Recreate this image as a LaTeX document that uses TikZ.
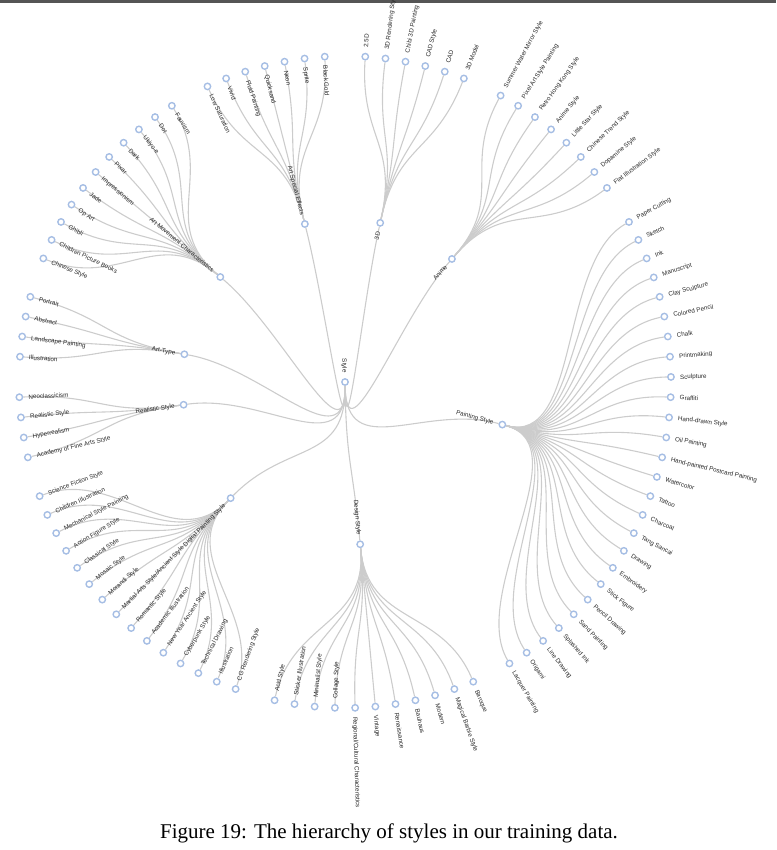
\documentclass[tikz,border=0pt]{standalone}
\usepackage{fontspec}
\setmainfont{Liberation Serif}
\setsansfont{Liberation Sans}
\usetikzlibrary{backgrounds}
\definecolor{linkgray}{RGB}{204, 204, 204}
\definecolor{ringcolor}{RGB}{166, 190, 228}
\definecolor{labelcolor}{RGB}{40, 40, 40}
\definecolor{topbar}{RGB}{85, 85, 85}
\tikzset{
  stylenode/.style={
    circle, minimum size=6.4pt, inner sep=0pt,
    draw=ringcolor, line width=1.4pt, fill=white
  },
  stylelabel/.style={
    inner sep=0pt, text=labelcolor,
    font=\sffamily\fontsize{6.25}{7}\selectfont
  },
  link/.style={
    draw=linkgray, line width=1.1pt
  }
}

% one slot of the ring (degrees) and the two ring radii (px)
\newcommand\stslot{7.128713}
\newcommand\radone{163}
\newcommand\radtwo{326}
\newcommand\rootang{-89.1}

% #1 name, #2 label, #3 first slot, #4 leaf count, #5 leaves
\newcommand\stylegroup[5]{%
  \pgfmathsetmacro\gth{(#3+(#4-1)/4)*\stslot}%
  \pgfmathsetmacro\gang{90-\gth}%
  \node[stylenode] (#1) at (\gang:\radone) {};
  \ifdim\gth pt<180pt
    \node[stylelabel, rotate=\gang, anchor=mid east] (#1-t) at (\gang:\radone-9) {#2};
  \else
    \node[stylelabel, rotate=\gang+180, anchor=mid east] (#1-t) at (\gang:\radone+9) {#2};
  \fi
  \begin{scope}[on background layer]
    \draw[link] (root) .. controls (\rootang:\radone/2) and (\gang:\radone/2) .. (#1);
  \end{scope}
  \foreach \leaf [count=\i from 0] in {#5} {
    \pgfmathsetmacro\lth{(#3+\i/2)*\stslot}
    \pgfmathsetmacro\lang{90-\lth}
    \node[stylenode] (#1-\i) at (\lang:\radtwo) {};
    \ifdim\lth pt<180pt
      \node[stylelabel, rotate=\lang, anchor=mid west] (#1-\i-t) at (\lang:\radtwo+9) {\leaf};
    \else
      \node[stylelabel, rotate=\lang+180, anchor=mid west] (#1-\i-t) at (\lang:\radtwo-9) {\leaf};
    \fi
    \begin{scope}[on background layer]
      \draw[link] (#1) .. controls (\gang:1.5*\radone) and (\lang:1.5*\radone) .. (#1-\i);
    \end{scope}
  }
}

\begin{document}
\begin{tikzpicture}[x=1pt, y=1pt]

  % ── Page frame (origin on the root) ─────────────────────────
  \useasboundingbox (-345,-468) rectangle (431,382);
  \fill[topbar] (-345,382) rectangle (431,379);

  % ── Root ────────────────────────────────────────────────────
  \node[stylenode] (root) at (0,0) {};
  \node[stylelabel, rotate=\rootang, anchor=mid east] (root-t) at (\rootang:-9) {Style};

  % ── Branches, clockwise from the top ────────────────────────
  \stylegroup{threed}{3D}{0.5}{6}{2.5D, 3D Rendering Style, Chibi 3D Painting,
    CAD Style, CAD, 3D Model}
  \stylegroup{anime}{Anime}{4.0}{8}{Summer Water Mirror Style, Pixel Art Style Painting,
    Retro Hong Kong Style, Anime Style, Little Star Style, Chinese Trend Style,
    Dopamine Style, Flat Illustration Style}
  \stylegroup{painting}{Painting Style}{8.5}{26}{Paper Cutting, Sketch, Ink, Manuscript,
    Clay Sculpture, Colored Pencil, Chalk, Printmaking, Sculpture, Graffiti,
    Hand-drawn Style, Oil Painting, Hand-painted Postcard Painting, Watercolor,
    Tattoo, Charcoal, Tang Sancai, Drawing, Embroidery, Stick Figure,
    Pencil Drawing, Sand Painting, Splashed Ink, Line Drawing, Origami,
    Lacquer Painting}
  \stylegroup{design}{Design Style}{22.0}{11}{Baroque, Magical Barbie Style, Modern,
    Bauhaus, Renaissance, Vintage, Regional/Cultural Characteristics,
    Collage Style, Minimalist Style, Sticker Illustration, Acid Style}
  \stylegroup{digital}{Digital Painting Style}{28.0}{15}{CG Rendering Style, Illustration,
    Technical Drawing, Cyberpunk Style, New Year Ancient Style,
    Academic Illustration, Romantic Style, Martial Arts Style/Ancient Style,
    Morandi Style, Mosaic Style, Classical Style, Action Figure Style,
    Mechanical Style Painting, Children Illustration, Science Fiction Style}
  \stylegroup{realistic}{Realistic Style}{36.0}{4}{Academy of Fine Arts Style,
    Hyperrealism, Realistic Style, Neoclassicism}
  \stylegroup{arttype}{Art-Type}{38.5}{4}{Illustration, Landscape Painting,
    Abstract, Portrait}
  \stylegroup{movement}{Art Movement Characteristics}{41.0}{11}{Chinese Style,
    Children Picture Books, Ghibli, Op Art, Jade, Impressionism, Pixar, Dark,
    Ukiyo-e, Dot, Fauvism}
  \stylegroup{effects}{Art Special Effects}{47.0}{7}{Low Saturation, Vivid,
    Fluid Painting, Quicksand, Neon, Sprite, Black Gold}

  % ── Caption ─────────────────────────────────────────────────
  \node[font=\fontsize{21}{25}\selectfont, anchor=base] (caption) at (44,-456)
    {Figure 19: The hierarchy of styles in our training data.};

\end{tikzpicture}
\end{document}
